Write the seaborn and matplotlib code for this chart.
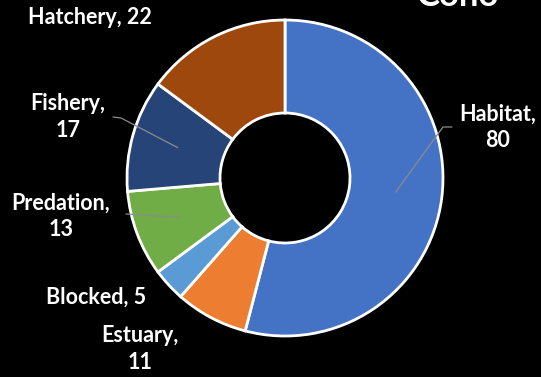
import matplotlib
matplotlib.use("Agg")
import matplotlib.pyplot as plt
import seaborn as sns
import numpy as np

# Causes of decline, Coho
categories = ["Habitat", "Estuary", "Blocked", "Predation", "Fishery", "Hatchery"]
values = [80, 11, 5, 13, 17, 22]
wrap_label = [True, True, False, True, True, False]
slice_colors = ["#4472C4", "#ED7D31", "#5B9BD5", "#70AD47", "#264478", "#9E480E"]
title = "Coho"

sns.set_theme(style="dark", rc={"axes.facecolor": "black", "figure.facecolor": "black"})
plt.rcParams["font.family"] = ["Lato", "DejaVu Sans"]

W, H = 541, 377
fig = plt.figure(figsize=(W / 100, H / 100), dpi=100, facecolor="black")
ax = fig.add_axes([0, 0, 1, 1])
ax.set_facecolor("black")


def px(x, y):
    """Top-down pixel position -> data coordinates."""
    return x, H - y


cx, cy = px(285, 178)
R_OUT, R_IN = 158, 65

wedges, _ = ax.pie(
    values,
    colors=sns.color_palette(slice_colors),
    startangle=90,
    counterclock=False,
    center=(cx, cy),
    radius=R_OUT,
    frame=True,
    wedgeprops=dict(width=R_OUT - R_IN, edgecolor="white", linewidth=2),
)
ax.set_xlim(0, W)
ax.set_ylim(0, H)
ax.set_aspect("equal")
ax.axis("off")

# label block centres and leader-line paths (top-down pixel layout)
label_pos = {
    "Habitat": (498, 127),
    "Estuary": (140, 349),
    "Blocked": (96, 297),
    "Predation": (61, 216),
    "Fishery": (68, 117),
    "Hatchery": (90, 17),
}
leader_path = {
    "Habitat": [(443, 127), (452, 127)],
    "Fishery": [(121, 118), (113, 117)],
    "Predation": [(126, 214)],
}

r_mid = (R_OUT + R_IN) / 2
for w, name, val, wrap in zip(wedges, categories, values, wrap_label):
    sep = ",\n" if wrap else ", "
    tx, ty = px(*label_pos[name])
    ax.text(tx, ty, f"{name}{sep}{val}", color="white", fontsize=15.5,
            fontweight="bold", ha="center", va="center", linespacing=1.3)
    if name in leader_path:
        ang = np.deg2rad((w.theta1 + w.theta2) / 2)
        xs = [cx + r_mid * np.cos(ang)] + [px(*p)[0] for p in leader_path[name]]
        ys = [cy + r_mid * np.sin(ang)] + [px(*p)[1] for p in leader_path[name]]
        ax.plot(xs, ys, color="#8C8C8C", linewidth=0.9)

tx, ty = px(458, 6)
ax.text(tx, ty, title, color="white", fontsize=25, fontweight="bold",
        ha="center", va="baseline")

fig.savefig("out.png", dpi=100, facecolor="black")
